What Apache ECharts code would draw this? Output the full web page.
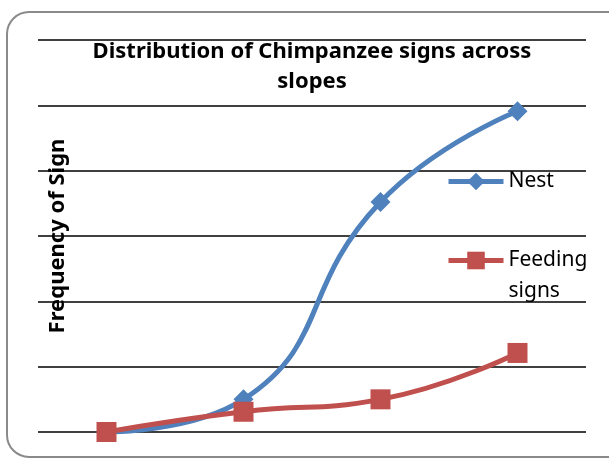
<!DOCTYPE html>
<html><head>
<meta charset="utf-8">
<title>Chimpanzee signs</title>
<script src="https://cdn.jsdelivr.net/npm/echarts@6/dist/echarts.min.js"></script>
<style>
html,body{margin:0;padding:0;background:#fff;}
#main{width:609px;height:460px;}
</style>
</head>
<body>
<div id="main"></div>
<script type="text/javascript">
// slopes (category labels are not shown on the chart)
var slopes = ['Slope 1', 'Slope 2', 'Slope 3', 'Slope 4'];
var nest = [0, 0.5, 3.52, 4.91];
var feeding = [0, 0.31, 0.5, 1.21];
var yTicks = [0, 1, 2, 3, 4, 5, 6];

var font = '"Noto Sans", "DejaVu Sans", sans-serif';
var myChart = echarts.init(document.getElementById('main'));

var option = {
    animation: false,
    title: {
        text: 'Distribution of Chimpanzee signs across\nslopes',
        left: 307,
        textAlign: 'center',
        top: 32,
        textStyle: { fontFamily: font, fontWeight: 'bold', fontSize: 22, lineHeight: 30, color: '#000' }
    },
    graphic: [{
        type: 'rect',
        shape: { x: 7, y: 12, width: 640, height: 445, r: 22 },
        style: { fill: 'none', stroke: '#8a8a8a', lineWidth: 2 },
        silent: true
    }],
    legend: [{
        data: ['Nest'],
        orient: 'vertical',
        left: 446,
        top: 171,
        padding: 0,
        itemWidth: 55,
        itemHeight: 22,
        lineStyle: { width: 5 },
        textStyle: { fontFamily: font, fontSize: 21, color: '#000' }
    }, {
        // leading empty line keeps the icon level with "Feeding"
        data: ['Feeding signs'],
        orient: 'vertical',
        left: 446,
        top: 214,
        padding: 0,
        itemWidth: 55,
        itemHeight: 22,
        lineStyle: { width: 5 },
        formatter: function (name) { return '\nFeeding\nsigns'; },
        textStyle: { fontFamily: font, fontSize: 21, lineHeight: 31, color: '#000' }
    }],
    grid: { left: 38, right: 23, top: 40, bottom: 28 },
    xAxis: {
        type: 'category',
        data: slopes,
        boundaryGap: true,
        axisLine: { show: false },
        axisTick: { show: false },
        axisLabel: { show: false }
    },
    yAxis: {
        type: 'value',
        min: yTicks[0],
        max: yTicks[yTicks.length - 1],
        interval: 1,
        name: 'Frequency of Sign',
        nameLocation: 'middle',
        nameRotate: 90,
        nameGap: -31,
        nameTextStyle: { fontFamily: font, fontWeight: 'bold', fontSize: 22, color: '#000' },
        axisLine: { show: false },
        axisTick: { show: false },
        axisLabel: { show: false },
        splitLine: { lineStyle: { color: '#000', width: 1.5 } }
    },
    series: [{
        name: 'Nest',
        type: 'line',
        data: nest,
        smooth: 0.5,
        symbol: 'diamond',
        symbolSize: 20,
        itemStyle: { color: '#4F81BD' },
        lineStyle: { color: '#4F81BD', width: 5 }
    }, {
        name: 'Feeding signs',
        type: 'line',
        data: feeding,
        smooth: 0.5,
        symbol: 'rect',
        symbolSize: 20,
        itemStyle: { color: '#C0504D' },
        lineStyle: { color: '#C0504D', width: 5 }
    }]
};

myChart.setOption(option);
</script>
</body>
</html>
